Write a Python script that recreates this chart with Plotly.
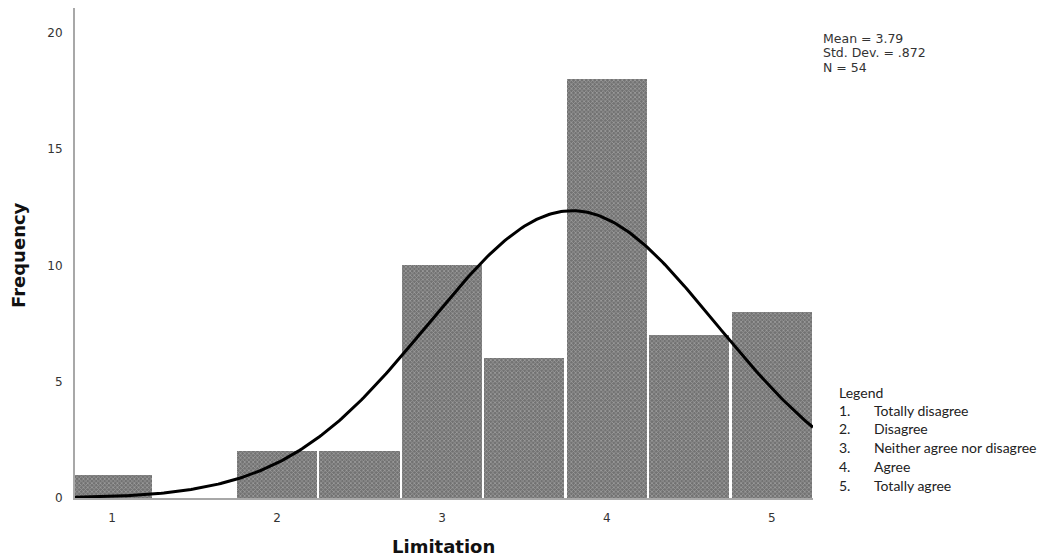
import numpy as np
import plotly.graph_objects as go

# Histogram of Limitation scores (bin width 0.5)
bin_centers = [1.0, 1.5, 2.0, 2.5, 3.0, 3.5, 4.0, 4.5, 5.0]
frequencies = [1, 0, 2, 2, 10, 6, 18, 7, 8]
bin_width = 0.5

mean_val = 3.79
std_val = 0.872
n_val = 54

x_ticks = [1, 2, 3, 4, 5]
y_ticks = [0, 5, 10, 15, 20]

legend_nums = ["1.", "2.", "3.", "4.", "5."]
legend_labels = ["Totally disagree", "Disagree", "Neither agree nor disagree",
                 "Agree", "Totally agree"]

x_range = [0.775, 5.25]
y_range = [0, 21.07]

# Fitted normal curve scaled to the histogram counts
xs = np.linspace(x_range[0], x_range[1], 300)
ys = n_val * bin_width * np.exp(-0.5 * ((xs - mean_val) / std_val) ** 2) / (std_val * np.sqrt(2 * np.pi))

fig = go.Figure()
fig.add_trace(go.Bar(
    x=bin_centers, y=frequencies, width=bin_width - 0.014,
    marker=dict(color="#727272", line=dict(width=0),
                pattern=dict(shape="x", fgcolor="#c8c8c8", bgcolor="#727272",
                             size=3, solidity=0.45)),
    hoverinfo="skip", showlegend=False,
))
fig.add_trace(go.Scatter(
    x=xs, y=ys, mode="lines", line=dict(color="black", width=3),
    hoverinfo="skip", showlegend=False, cliponaxis=False,
))

tick_font = dict(family="DejaVu Sans", size=12, color="#333333")

fig.update_layout(
    width=1054, height=557,
    margin=dict(l=75, r=241, t=8, b=59),
    paper_bgcolor="white", plot_bgcolor="white",
    bargap=0,
    xaxis=dict(range=x_range, tickvals=x_ticks, ticktext=[str(v) for v in x_ticks],
               showgrid=False, zeroline=False, showline=True, linecolor="#a8a8a8",
               linewidth=2, ticks="", tickfont=tick_font, ticklabelstandoff=8),
    yaxis=dict(range=y_range, tickvals=y_ticks, ticktext=[str(v) for v in y_ticks],
               showgrid=False, zeroline=False, showline=True, linecolor="#a8a8a8",
               linewidth=2, ticks="", tickfont=tick_font, ticklabelstandoff=8),
)


def px_x(p):
    return (p - 75) / (813 - 75)


def px_y(p):
    return (498 - p) / (498 - 8)


def add_text(text, x, y, font, xanchor="center", angle=0):
    fig.add_annotation(text=text, x=px_x(x), y=px_y(y), xref="paper", yref="paper",
                       xanchor=xanchor, yanchor="middle", showarrow=False,
                       textangle=angle, font=font, borderpad=0)


title_font = dict(family="DejaVu Sans", size=18, color="#111111")
add_text("<b>Limitation</b>", 443, 546, title_font)
add_text("<b>Frequency</b>", 18, 255, title_font, angle=-90)

stats_font = dict(family="DejaVu Sans", size=12.5, color="#333333")
stats_lines = [f"Mean = {mean_val:.2f}", f"Std. Dev. = {str(std_val)[1:]}", f"N = {n_val}"]
for i, line in enumerate(stats_lines):
    add_text(line, 822, 39 + i * 14, stats_font, xanchor="left")

legend_font = dict(family="Lato", size=14, color="#222222")
add_text("Legend", 838, 392, legend_font, xanchor="left")
for i, (num, lab) in enumerate(zip(legend_nums, legend_labels)):
    yy = 410 + i * 18.8
    add_text(num, 838, yy, legend_font, xanchor="left")
    add_text(lab, 873, yy, legend_font, xanchor="left")

fig.write_html("out.html")
